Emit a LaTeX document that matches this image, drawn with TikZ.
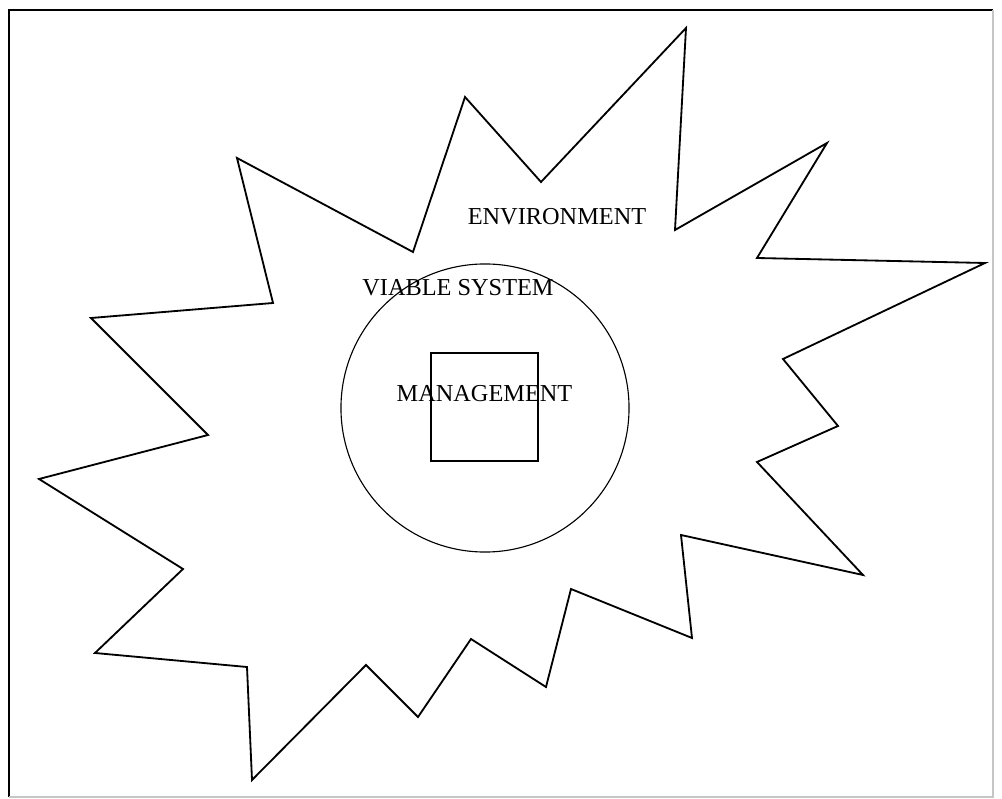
\documentclass[tikz,border=0pt]{standalone}
\usepackage{fontspec}
\setmainfont{Liberation Serif}
\usetikzlibrary{positioning}

\begin{document}
\begin{tikzpicture}[x=0.025cm,y=-0.025cm]
  \tikzset{
    starline/.style={line width=1.3pt,line join=miter},
    lbl/.style={inner sep=0pt,font=\fontsize{17.3}{20}\selectfont}
  }
  \useasboundingbox (0,0) rectangle (1002,799);
  % frame
  \draw[line width=1pt] (9,797) -- (9,10) -- (993,10);
  \draw[gray!45,line width=0.8pt] (9,797) -- (993,797) -- (993,10);
  % environment
  \draw[starline] (686,28) -- (675,230) -- (827,143) -- (757,258) -- (985,263)
    -- (783,359) -- (838,426) -- (757,462) -- (863,575) -- (681,535)
    -- (692,638) -- (571,589) -- (546,687) -- (471,639) -- (418,717)
    -- (366,665) -- (252,780) -- (247,667) -- (95,653) -- (183,569)
    -- (39,479) -- (208,435) -- (91,318) -- (273,303) -- (237,158)
    -- (413,252) -- (465,97) -- (541,182) -- cycle;
  % viable system and management
  \node[draw,circle,line width=0.8pt,minimum size=7.2cm,inner sep=0pt] (vs) at (485,408) {};
  \node[draw,line width=1pt,minimum width=2.675cm,minimum height=2.7cm,inner sep=0pt] (mg) at (484.5,407) {};
  \node[lbl] (envlbl) at (557,217) {ENVIRONMENT};
  \node[lbl] (vslbl) at (458,288) {VIABLE SYSTEM};
  \node[lbl] (mglbl) at (484.5,394) {MANAGEMENT};
\end{tikzpicture}
\end{document}
